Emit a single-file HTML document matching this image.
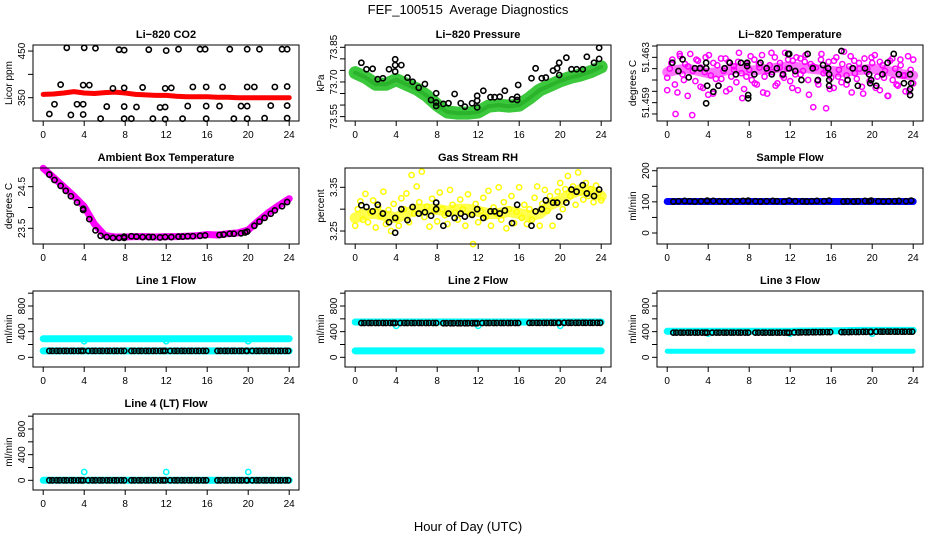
<!DOCTYPE html>
<html><head><meta charset="utf-8"><title>FEF_100515 Average Diagnostics</title>
<style>
html,body{margin:0;padding:0;background:#fff;}
svg{display:block;font-family:"Liberation Sans",Arial,sans-serif;}
</style></head>
<body>
<svg id="chart" width="936" height="540" viewBox="0 0 936 540">
<rect x="0" y="0" width="936" height="540" fill="#fff"/>
<text x="468" y="14" text-anchor="middle" font-size="13" style="white-space:pre">FEF_100515  Average Diagnostics</text>
<text x="468" y="531" text-anchor="middle" font-size="13">Hour of Day (UTC)</text>
</svg>
<script>
// ---------- data ----------
const xTicks = [0,4,8,12,16,20,24];
// CO2
const co2Band = [357,358,360,363,360,359,361,362,360,357,356,355,355,353,352,352,352,351,351,350,350,350,350,350,350];
const co2T = [2.3,4.0,5.1,7.4,7.9,10.3,12.0,13.2,15.3,15.8,18.2,19.9,21.1,23.3,23.8, 1.7,3.9,4.5,6.8,7.9,9.7,11.9,12.5,14.6,15.9,17.5,19.9,20.6,22.6,23.8, 1.1,3.3,3.9,6.2,7.9,9.1,11.4,11.9,14.1,15.9,17.2,19.3,19.9,22.2,23.8, 0.6,2.7,3.9,5.6,7.9,8.6,10.7,11.9,13.6,15.9,18.6,19.9,21.6,23.8];
const co2V = [457,457,456,453,452,453,451,454,454,454,454,454,454,454,454, 378,377,377,370,371,372,370,371,373,373,373,373,373,373,374, 336,336,336,331,331,330,329,330,332,332,332,332,332,333,333, 315,313,314,305,305,305,305,304,305,305,305,305,306,306];
// Pressure
const presBand = [73.74,73.72,73.69,73.69,73.71,73.69,73.67,73.64,73.60,73.57,73.565,73.565,73.57,73.595,73.60,73.595,73.60,73.63,73.665,73.685,73.705,73.72,73.73,73.745,73.765];
const presT = [0.6,1.1,1.7,2.2,2.7,3.3,3.9,3.9,3.9,4.5,5.1,5.6,6.2,6.8,7.4,7.9,7.9,7.9,8.6,9.1,9.7,10.3,10.7,11.4,11.9,11.9,11.9,12.5,13.2,13.6,14.1,14.6,15.3,15.8,15.8,15.9,17.2,17.6,18.2,18.6,19.3,19.7,19.9,19.9,20.6,21.1,21.6,22.2,22.6,23.3,23.8,23.8];
const presV = [73.783,73.755,73.757,73.712,73.716,73.755,73.798,73.773,73.745,73.773,73.719,73.701,73.675,73.691,73.622,73.651,73.611,73.596,73.605,73.608,73.648,73.608,73.593,73.608,73.619,73.640,73.590,73.662,73.634,73.634,73.636,73.662,73.625,73.636,73.622,73.687,73.716,73.759,73.716,73.719,73.749,73.759,73.783,73.730,73.805,73.755,73.755,73.755,73.809,73.783,73.848,73.800];
// Li-820 temperature
const tempBand = [51.4617,51.4619,51.4620,51.4618,51.4616,51.4617,51.4619,51.4620,51.4618,51.4619,51.4620,51.4621,51.4622,51.4621,51.4620,51.4619,51.4618,51.4617,51.4618,51.4619,51.4620,51.4619,51.4617,51.4615,51.4614];
const tempCloud = [51.4612,51.4620,51.4628,51.4606,51.4599,51.4631,51.4615,51.4624,51.4596,51.4633,51.4618,51.4609,51.4627,51.4621,51.4603,51.4630,51.4597,51.4614,51.4625,51.4611,51.4605,51.4629,51.4618,51.4600,51.4626,51.4613,51.4622,51.4608,51.4634,51.4616,51.4602,51.4624,51.4619,51.4610,51.4628,51.4606,51.4621,51.4632,51.4613,51.4598,51.4623,51.4617,51.4630,51.4607,51.4625,51.4614,51.4634,51.4620,51.4609,51.4627,51.4615,51.4601,51.4629,51.4618,51.4632,51.4610,51.4624,51.4586,51.4621,51.4606,51.4628,51.4616,51.4585,51.4626,51.4612,51.4603,51.4630,51.4619,51.4608,51.4635,51.4614,51.4622,51.4599,51.4627,51.4611,51.4620,51.4604,51.4629,51.4617,51.4609,51.4625,51.4632,51.4613,51.4601,51.4623,51.4618,51.4596,51.4627,51.4610,51.4620,51.4605,51.4628,51.4614,51.4600,51.4631,51.4619,51.4607];
const tempCloud2 = [51.4601,51.4625,51.4580,51.4633,51.4610,51.4622,51.4579,51.4628,51.4604,51.4617,51.4632,51.4598,51.4623,51.4611,51.4629,51.4602,51.4619,51.4626,51.4594,51.4613,51.4631,51.4607,51.4624,51.4599,51.4618,51.4634,51.4605,51.4621,51.4612,51.4628,51.4603,51.4630,51.4615,51.4626,51.4597,51.4622,51.4609,51.4633,51.4618,51.4602,51.4627,51.4613,51.4624,51.4606,51.4631,51.4616,51.4625,51.4598,51.4620,51.4630,51.4603,51.4626,51.4612,51.4596,51.4629,51.4606,51.4623,51.4614,51.4600,51.4628];
const tempT = [0.5,1.1,1.5,2.1,2.7,3.2,3.8,3.8,3.9,3.8,4.5,5.0,5.6,6.1,6.7,7.2,7.8,7.8,7.9,7.9,8.5,9.1,9.7,10.2,10.7,11.3,11.8,11.9,11.9,12.5,13.1,13.7,14.2,14.7,15.2,15.7,15.8,15.8,15.8,17.0,17.6,18.1,18.6,19.3,19.7,19.8,19.9,20.4,21.0,21.5,22.1,22.6,23.1,23.7,23.8,23.7,23.7];
const tempV = [51.46252,51.46179,51.46282,51.46123,51.46203,51.46203,51.46252,51.46203,51.46049,51.45894,51.45996,51.46049,51.46203,51.46252,51.46150,51.46252,51.46252,51.46223,51.45967,51.45938,51.46150,51.46252,51.46203,51.46150,51.46203,51.46150,51.46330,51.46330,51.46203,51.46179,51.46100,51.46330,51.46203,51.46100,51.46232,51.46203,51.46150,51.46100,51.46049,51.46356,51.46100,51.46203,51.46049,51.46203,51.46150,51.46071,51.46100,51.46049,51.46150,51.46252,51.46330,51.46150,51.46071,51.46150,51.46071,51.46020,51.45967];
// shared observation hours (black points)
const obsT = [0.6,1.1,1.7,2.2,2.7,3.3,3.9,3.9,4.5,5.1,5.6,6.2,6.8,7.4,7.9,7.9,8.6,9.1,9.7,10.3,10.7,11.4,11.9,12.5,13.2,13.6,14.1,14.6,15.3,15.8,17.2,17.6,18.2,18.6,19.3,19.7,19.9,20.6,21.1,21.6,22.2,22.6,23.3,23.8];
// Ambient box temperature
const ambBand = [24.94,24.72,24.50,24.27,24.02,23.60,23.33,23.29,23.29,23.30,23.30,23.29,23.30,23.30,23.31,23.32,23.35,23.34,23.37,23.39,23.46,23.68,23.88,24.05,24.21];
const ambV = [24.79,24.66,24.52,24.40,24.27,24.12,23.97,23.94,23.72,23.45,23.32,23.29,23.27,23.27,23.27,23.30,23.31,23.30,23.29,23.29,23.29,23.28,23.29,23.29,23.30,23.30,23.31,23.31,23.32,23.33,23.34,23.35,23.37,23.37,23.38,23.40,23.42,23.56,23.66,23.75,23.85,23.93,24.03,24.13];
// Gas stream RH
const rhBand = [3.280,3.290,3.290,3.285,3.280,3.290,3.300,3.300,3.300,3.295,3.300,3.300,3.295,3.290,3.290,3.295,3.290,3.285,3.290,3.310,3.320,3.335,3.345,3.340,3.330];
const rhCloud = [3.262,3.300,3.318,3.276,3.335,3.270,3.292,3.320,3.258,3.305,3.284,3.340,3.266,3.298,3.250,3.312,3.280,3.262,3.325,3.300,3.336,3.270,3.378,3.290,3.352,3.316,3.386,3.282,3.306,3.260,3.324,3.296,3.272,3.338,3.300,3.286,3.266,3.344,3.310,3.292,3.276,3.322,3.300,3.262,3.334,3.288,3.220,3.312,3.270,3.296,3.326,3.282,3.342,3.262,3.304,3.290,3.350,3.276,3.316,3.256,3.300,3.330,3.268,3.294,3.350,3.280,3.310,3.266,3.300,3.276,3.326,3.352,3.262,3.312,3.344,3.296,3.330,3.262,3.318,3.340,3.360,3.300,3.346,3.376,3.330,3.352,3.310,3.384,3.338,3.322,3.360,3.330,3.346,3.316,3.354,3.336,3.320];
const rhV = [3.309,3.305,3.295,3.310,3.290,3.270,3.246,3.280,3.300,3.275,3.305,3.290,3.293,3.285,3.315,3.300,3.262,3.290,3.280,3.290,3.283,3.287,3.300,3.280,3.295,3.295,3.290,3.297,3.268,3.310,3.262,3.295,3.300,3.320,3.315,3.315,3.283,3.315,3.345,3.340,3.355,3.336,3.330,3.345];
// Sample flow
const sfBand = [101,101,101,101,101,101,101,101,101,101,101,101,101,101,101,101,101,101,101,101,101,101,101,101,101];
const sfV = [101,102,103,102,101,102,104,102,103,102,101,102,102,103,104,102,102,101,102,103,102,101,104,102,102,101,102,103,102,104,101,102,101,102,103,102,104,102,101,102,102,103,102,104];
// Line flows
const flowT = [0.6,0.9,1.3,1.6,2.0,2.3,2.7,3.0,3.4,3.7,3.9,4.4,4.8,5.1,5.5,5.8,6.2,6.5,6.9,7.2,7.6,7.9,8.6,8.9,9.3,9.6,10.0,10.3,10.7,11.0,11.4,11.7,11.9,12.4,12.8,13.1,13.5,13.8,14.2,14.5,14.9,15.2,15.6,15.9,17.0,17.3,17.7,18.0,18.4,18.7,19.1,19.4,19.8,19.9,20.4,20.8,21.1,21.5,21.8,22.2,22.5,22.9,23.2,23.6,23.9];
const outT = [4,12,20];
const l1Hi = [290,290,290,290,290,290,290,290,290,290,290,290,290,290,290,290,290,290,290,290,290,290,290,290,290];
const l1Lo = [100,100,100,100,100,100,100,100,100,100,100,100,100,100,100,100,100,100,100,100,100,100,100,100,100];
const l1Blk = [100,100,100,100,100,100,100,100,100,100,100,100,100,100,100,100,100,100,100,100,100,100,100,100,100];
const l1Out = [250,250,250];
const l2Hi = [550,550,550,550,550,550,550,550,550,550,550,550,550,550,550,550,550,550,550,550,550,550,550,550,550];
const l2Lo = [100,100,100,100,100,100,100,100,100,100,100,100,100,100,100,100,100,100,100,100,100,100,100,100,100];
const l2Blk = [535,535,535,535,535,535,535,535,532,532,532,532,535,535,535,535,537,537,537,538,538,538,538,538,538];
const l2Out = [490,490,490];
const l3Hi = [405,405,405,405,405,405,405,405,405,405,405,405,405,410,410,412,412,415,418,420,420,420,420,420,420];
const l3Lo = [95,95,95,95,95,95,95,95,95,95,95,95,95,95,95,95,95,95,95,95,95,95,95,95,95];
const l3Blk = [385,385,385,385,385,385,385,385,385,385,385,385,388,390,392,393,393,393,395,398,400,400,400,400,400];
const l3Out = [370,370,370];
const l4Lo = [0,0,0,0,0,0,0,0,0,0,0,0,0,0,0,0,0,0,0,0,0,0,0,0,0];
const l4Blk = [0,0,0,0,0,0,0,0,0,0,0,0,0,0,0,0,0,0,0,0,0,0,0,0,0];
const l4Out = [130,130,130];

// ---------- drawing ----------
const svg = document.getElementById('chart');
const NS = 'http://www.w3.org/2000/svg';
const W = 266, H = 76;
const colLeft = [33,345,657];
const rowTop = [45,168,291,414];
function mk(tag, parent){ const e = document.createElementNS(NS, tag); parent.appendChild(e); return e; }

function panel(col,row,ymin,ymax,title,ylab,yt,ylabels,key){
  const L = colLeft[col], T = rowTop[row];
  const g = mk('g', svg);
  
  
  const sx = t => L + 10.2 + t*10.25;
  const sy = v => T + H - (v - ymin)/(ymax - ymin)*H;
  const tt = mk('text', g);
  tt.setAttribute('x', L + W/2); tt.setAttribute('y', T - 7);
  tt.setAttribute('text-anchor','middle'); tt.setAttribute('font-size','11'); tt.setAttribute('font-weight','bold');
  tt.textContent = title;
  
  
  const yl = mk('text', g);
  yl.setAttribute('transform', 'translate(' + (L-21) + ',' + (T+H/2) + ') rotate(-90)');
  yl.setAttribute('text-anchor','middle'); yl.setAttribute('font-size','10');
  yl.textContent = ylab;
  
  
  const plot = mk('g', g);
  
  
  const box = mk('rect', g);
  box.setAttribute('x', L); box.setAttribute('y', T); box.setAttribute('width', W); box.setAttribute('height', H);
  box.setAttribute('fill','none'); box.setAttribute('stroke','#000'); box.setAttribute('stroke-width','1');
  
  
  xTicks.forEach(t => {
    const ln = mk('line', g);
    ln.setAttribute('x1', sx(t)); ln.setAttribute('x2', sx(t)); ln.setAttribute('y1', T+H); ln.setAttribute('y2', T+H+5);
    ln.setAttribute('stroke','#000');
    
    
    const lb = mk('text', g);
    lb.setAttribute('x', sx(t)); lb.setAttribute('y', T+H+17);
    lb.setAttribute('text-anchor','middle'); lb.setAttribute('font-size','10');
    lb.textContent = t;
    
    
  });
  yt.forEach((v,i) => {
    const ln = mk('line', g);
    ln.setAttribute('x1', L-5); ln.setAttribute('x2', L); ln.setAttribute('y1', sy(v)); ln.setAttribute('y2', sy(v));
    ln.setAttribute('stroke','#000');
    
    
    if (ylabels[i]) {
      const lb = mk('text', g);
      lb.setAttribute('transform', 'translate(' + (L-8) + ',' + sy(v) + ') rotate(-90)');
      lb.setAttribute('text-anchor','middle'); lb.setAttribute('font-size','10');
      lb.textContent = ylabels[i];
      
      
    }
  });
  return {g: plot, sx, sy, key};
}
function band(p, vals, color, width, name, op){
  const pts = vals.map((v,i) => p.sx(i*24/(vals.length-1)).toFixed(1) + ',' + p.sy(v).toFixed(1)).join(' ');
  const pl = mk('polyline', p.g);
  pl.setAttribute('points', pts); pl.setAttribute('fill','none'); pl.setAttribute('stroke', color);
  pl.setAttribute('stroke-width', width); pl.setAttribute('stroke-linejoin','round'); pl.setAttribute('stroke-linecap','round');
  if (op) pl.setAttribute('stroke-opacity', op);
  
  
}
function cloud(p, vals, color, name){
  vals.forEach((v,i) => {
    const c = mk('circle', p.g);
    c.setAttribute('cx', p.sx(i*24/(vals.length-1))); c.setAttribute('cy', p.sy(v)); c.setAttribute('r', 2.6);
    c.setAttribute('fill','none'); c.setAttribute('stroke', color); c.setAttribute('stroke-width', 1.5);
    
    
  });
}
function pts(p, ts, vs, color, name){
  const n = Math.min(ts.length, vs.length);
  for (let i=0;i<n;i++){
    const c = mk('circle', p.g);
    c.setAttribute('cx', p.sx(ts[i])); c.setAttribute('cy', p.sy(vs[i])); c.setAttribute('r', 2.6);
    c.setAttribute('fill','none'); c.setAttribute('stroke', color); c.setAttribute('stroke-width', 1.6);
    
    
  }
}
function hourly(p, ts, hv, color, name){
  ts.forEach(t => {
    const v = hv[Math.min(24, Math.floor(t))];
    const c = mk('circle', p.g);
    c.setAttribute('cx', p.sx(t)); c.setAttribute('cy', p.sy(v)); c.setAttribute('r', 2.6);
    c.setAttribute('fill','none'); c.setAttribute('stroke', color); c.setAttribute('stroke-width', 1.6);
    
    
  });
}

// CO2
let p = panel(0,0,300,463,'Li\u2212820 CO2','Licor ppm',[350,400,450],['350','','450'],'co2');
band(p, co2Band, '#ff0000', 5, 'co2-series');
pts(p, co2T, co2V, '#000', 'co2-obs-point');
// Pressure
p = panel(1,0,73.531,73.860,'Li\u2212820 Pressure','kPa',[73.55,73.60,73.65,73.70,73.75,73.80,73.85],['73.55','','','73.70','','','73.85'],'pressure');
band(p, presBand, '#3cc83c', 13, 'pressure-band');
band(p, presBand, '#1fa51f', 4, 'pressure-band-core', 0.6);
pts(p, presT, presV, '#000', 'pressure-obs-point');
// Temperature
p = panel(2,0,51.45738,51.46409,'Li\u2212820 Temperature','degrees C',[51.458,51.459,51.460,51.461,51.462,51.463,51.464],['','51.459','','','','51.463',''],'li820-temp');
band(p, tempBand, '#ff00ff', 10, 'li820-temp-band', 0.55);
cloud(p, tempCloud, '#ff00ff', 'li820-temp-point');
cloud(p, tempCloud2, '#ff00ff', 'li820-temp-point');
pts(p, tempT, tempV, '#000', 'li820-temp-obs-point');
// Ambient
p = panel(0,1,23.123,24.948,'Ambient Box Temperature','degrees C',[23.5,24.0,24.5],['23.5','','24.5'],'ambient');
band(p, ambBand, '#ff00ff', 7, 'ambient-band');
pts(p, obsT, ambV, '#000', 'ambient-obs-point');
// RH
p = panel(1,1,3.2203,3.3942,'Gas Stream RH','percent',[3.25,3.30,3.35],['3.25','','3.35'],'rh');
band(p, rhBand, '#ffff00', 11, 'rh-band', 0.7);
cloud(p, rhCloud, '#ffff00', 'rh-point');
pts(p, obsT, rhV, '#000', 'rh-obs-point');
// Sample flow
p = panel(2,1,-35.3,208.7,'Sample Flow','ml/min',[0,50,100,150,200],['0','','100','','200'],'sample-flow');
band(p, sfBand, '#0000ff', 7, 'sample-flow-band');
pts(p, obsT, sfV, '#000', 'sample-flow-obs-point');
// Line flows
const fTicks = [0,200,400,600,800,1000], fLab = ['0','','400','','800',''];
p = panel(0,2,-151,1034,'Line 1 Flow','ml/min',fTicks,fLab,'line1');
band(p, l1Hi, '#00ffff', 7, 'line1-high-band');
band(p, l1Lo, '#00ffff', 7, 'line1-low-band');
pts(p, outT, l1Out, '#00ffff', 'line1-outlier');
hourly(p, flowT, l1Blk, '#000', 'line1-obs-point');
p = panel(1,2,-151,1034,'Line 2 Flow','ml/min',fTicks,fLab,'line2');
band(p, l2Hi, '#00ffff', 7, 'line2-high-band');
band(p, l2Lo, '#00ffff', 7, 'line2-low-band');
pts(p, outT, l2Out, '#00ffff', 'line2-outlier');
hourly(p, flowT, l2Blk, '#000', 'line2-obs-point');
p = panel(2,2,-151,1034,'Line 3 Flow','ml/min',fTicks,fLab,'line3');
band(p, l3Hi, '#00ffff', 7, 'line3-high-band');
band(p, l3Lo, '#00ffff', 5, 'line3-low-band');
pts(p, outT, l3Out, '#00ffff', 'line3-outlier');
hourly(p, flowT, l3Blk, '#000', 'line3-obs-point');
p = panel(0,3,-151,1034,'Line 4 (LT) Flow','ml/min',fTicks,fLab,'line4');
band(p, l4Lo, '#00ffff', 7, 'line4-band');
pts(p, outT, l4Out, '#00ffff', 'line4-outlier');
hourly(p, flowT, l4Blk, '#000', 'line4-obs-point');
</script>
</body></html>
